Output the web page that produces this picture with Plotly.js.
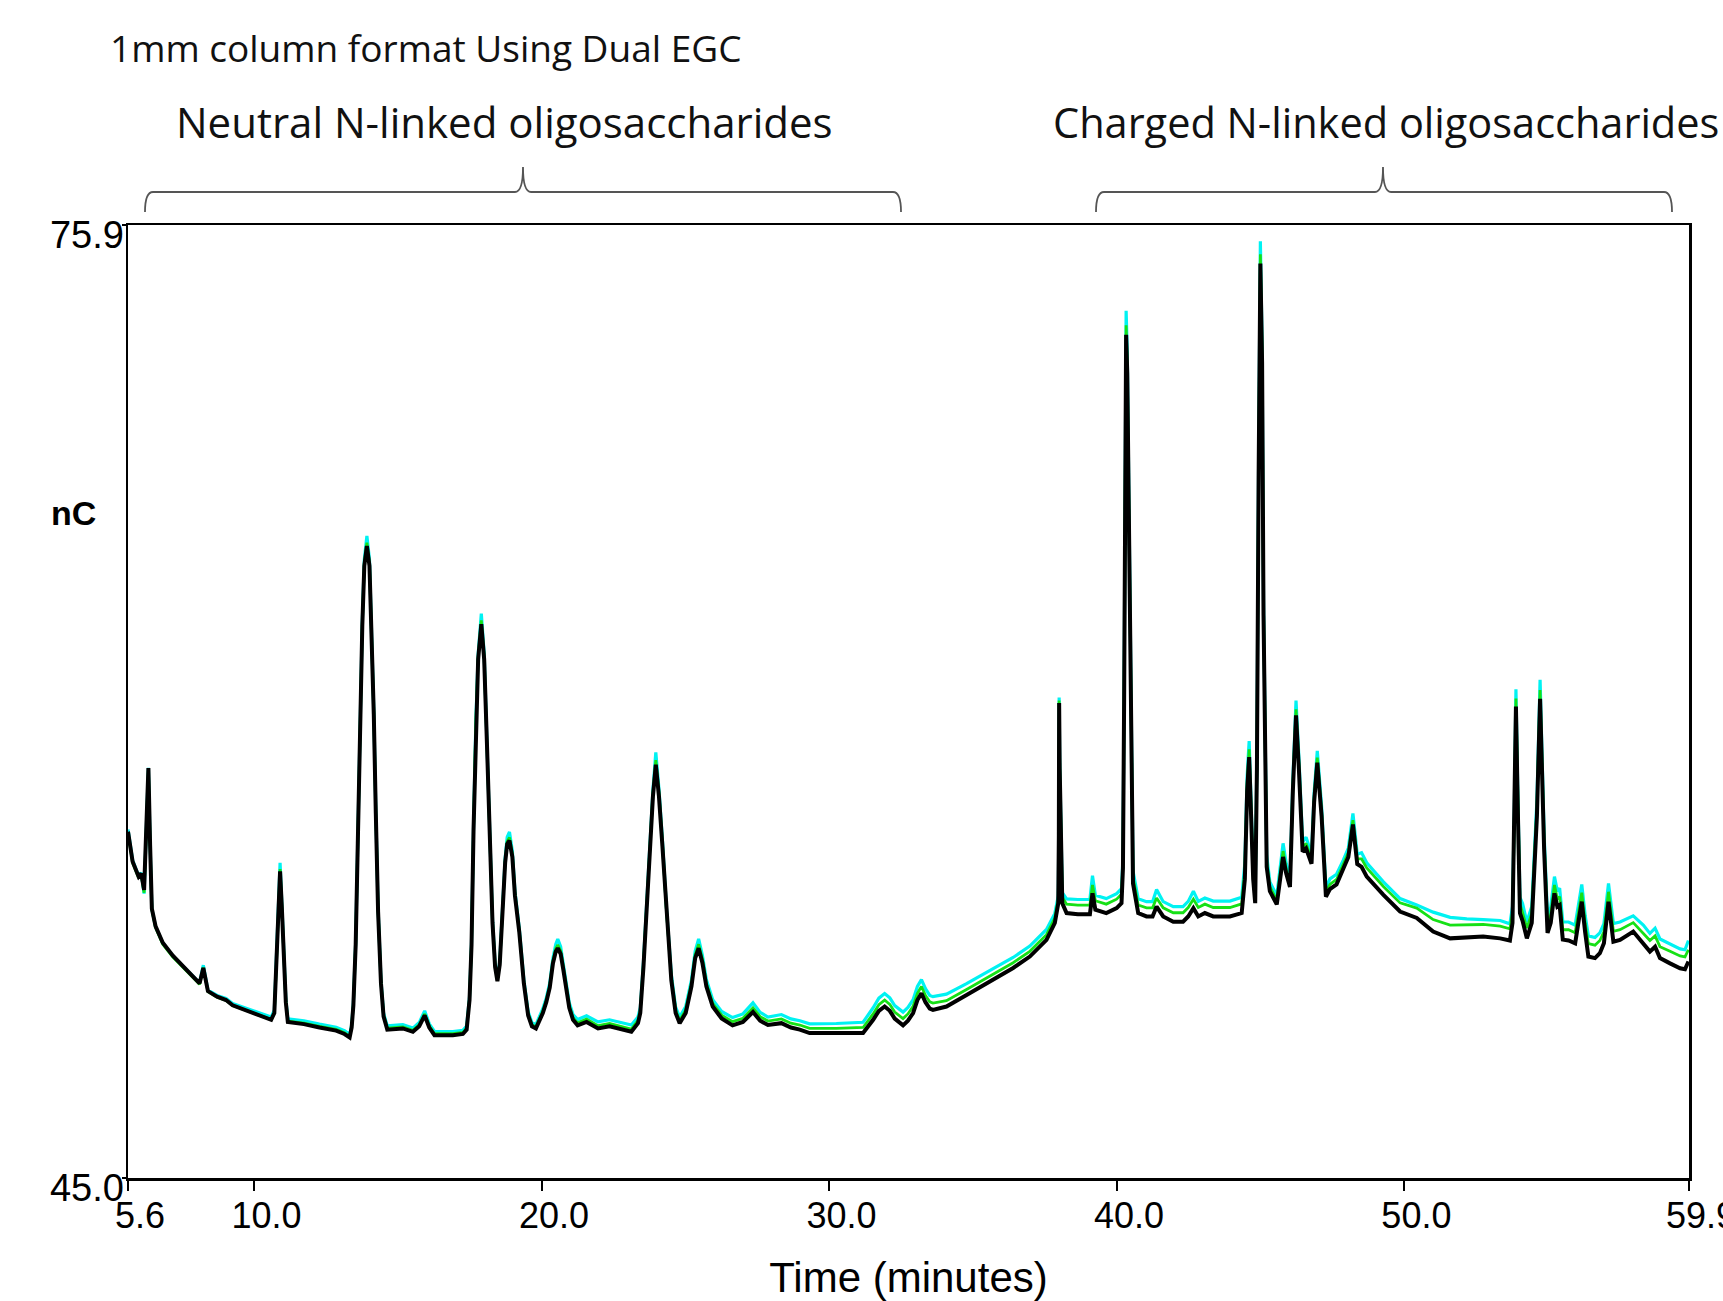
<!DOCTYPE html>
<html><head><meta charset="utf-8">
<script src="https://cdn.plot.ly/plotly-3.0.1.min.js"></script>
<style>html,body{margin:0;padding:0;background:#fff;overflow:hidden;} #chart{width:1723px;height:1301px;}</style>
</head><body><div id="chart"></div>
<script>
const retentionTime=[
5.60,5.76,5.97,6.06,6.16,6.23,6.31,6.37,6.43,6.56,
6.81,7.16,7.62,8.09,8.22,8.38,8.70,9.01,9.24,9.69,
10.17,10.58,10.69,10.76,10.82,10.89,10.95,11.01,11.09,11.16,
11.72,12.26,12.84,13.13,13.31,13.38,13.44,13.52,13.59,13.67,
13.75,13.82,13.91,14.00,14.07,14.15,14.22,14.30,14.40,14.49,
14.62,15.16,15.51,15.73,15.92,16.08,16.26,16.90,17.25,17.38,
17.48,17.55,17.62,17.70,17.78,17.89,17.99,18.09,18.18,18.28,
18.37,18.45,18.53,18.62,18.72,18.79,18.87,18.97,19.06,19.21,
19.37,19.52,19.65,19.79,20.03,20.15,20.27,20.38,20.48,20.55,
20.65,20.74,20.85,20.95,21.08,21.24,21.55,21.95,22.35,22.77,
23.11,23.34,23.42,23.53,23.63,23.78,23.86,23.96,24.07,24.19,
24.33,24.50,24.65,24.79,25.00,25.20,25.33,25.45,25.58,25.72,
25.94,26.25,26.63,26.99,27.34,27.59,27.86,28.33,28.66,28.97,
29.31,30.24,31.17,31.52,31.72,31.92,32.10,32.27,32.56,32.73,
32.91,33.06,33.20,33.34,33.49,33.60,34.07,34.77,35.58,36.39,
36.97,37.55,37.84,37.96,37.98,37.99,38.01,38.10,38.25,38.64,
39.06,39.15,39.25,39.63,39.99,40.16,40.21,40.25,40.29,40.32,
40.36,40.42,40.48,40.56,40.74,41.03,41.24,41.38,41.61,41.96,
42.30,42.48,42.66,42.83,43.06,43.35,43.93,44.34,44.45,44.53,
44.60,44.66,44.74,44.81,44.87,44.93,44.99,45.05,45.10,45.21,
45.32,45.56,45.68,45.78,45.89,46.02,46.12,46.23,46.33,46.46,
46.58,46.77,46.86,46.97,47.12,47.27,47.41,47.64,47.87,48.05,
48.21,48.36,48.51,48.69,49.27,49.85,50.43,51.00,51.59,52.17,
52.74,53.33,53.67,53.76,53.82,53.88,53.94,54.02,54.11,54.26,
54.43,54.61,54.72,54.86,54.98,55.09,55.22,55.32,55.40,55.51,
55.71,55.94,56.08,56.17,56.29,56.40,56.63,56.80,56.94,57.10,
57.27,57.50,57.96,58.31,58.54,58.72,58.89,59.24,59.59,59.76,
59.88];

const signalBlack=[
56.23,55.26,54.77,54.87,54.34,56.12,58.29,55.76,53.73,53.16,
52.63,52.21,51.77,51.31,51.81,51.06,50.88,50.77,50.60,50.45,
50.28,50.13,50.35,51.84,53.62,54.94,53.80,52.20,50.70,50.06,
49.99,49.88,49.78,49.67,49.56,49.88,50.60,52.56,55.76,59.68,
62.89,64.85,65.49,64.85,62.89,60.04,56.83,53.63,51.31,50.24,
49.81,49.85,49.74,49.92,50.27,49.88,49.63,49.63,49.67,49.81,
50.77,52.56,56.30,59.68,61.82,62.96,61.82,58.97,56.12,53.27,
51.84,51.38,51.91,53.63,55.23,55.83,55.94,55.41,54.16,52.98,
51.31,50.27,49.92,49.85,50.35,50.70,51.17,51.95,52.34,52.45,
52.27,51.77,51.17,50.52,50.13,49.95,50.06,49.85,49.92,49.81,
49.74,50.02,50.35,51.84,53.59,55.76,57.37,58.40,57.37,55.76,
53.59,51.41,50.35,50.02,50.35,51.21,52.13,52.45,51.98,51.21,
50.56,50.17,49.95,50.06,50.38,50.10,49.96,50.02,49.88,49.81,
49.70,49.69,49.70,50.13,50.42,50.56,50.42,50.17,49.95,50.10,
50.35,50.77,50.99,50.70,50.49,50.45,50.56,50.93,51.38,51.81,
52.18,52.72,53.27,53.91,56.12,60.40,58.26,53.91,53.59,53.55,
53.55,54.23,53.70,53.59,53.75,53.91,55.05,60.40,68.24,72.34,
71.09,66.10,60.40,54.55,53.59,53.48,53.48,53.80,53.48,53.31,
53.31,53.48,53.75,53.48,53.59,53.48,53.48,53.59,54.69,57.55,
58.65,56.83,54.69,53.91,58.26,67.88,74.65,71.45,63.25,55.09,
54.30,53.87,54.69,55.41,54.87,54.44,57.55,60.00,58.26,55.58,
55.69,55.19,57.19,58.47,56.73,54.12,54.37,54.52,55.02,55.41,
56.46,55.18,55.09,54.77,54.18,53.64,53.43,52.99,52.77,52.81,
52.83,52.77,52.70,53.27,56.12,60.29,57.19,53.59,53.34,52.77,
53.27,56.73,60.54,55.66,52.95,53.27,54.23,53.80,53.85,52.73,
52.70,52.61,53.45,53.96,52.95,52.18,52.13,52.29,52.61,53.96,
52.66,52.72,52.99,52.61,52.34,52.50,52.13,51.96,51.80,51.77,
52.02];

const signalGreen=[
56.20,55.22,54.73,54.84,54.25,56.10,58.29,55.76,53.70,53.12,
52.58,52.16,51.73,51.28,51.82,51.04,50.86,50.76,50.59,50.45,
50.28,50.14,50.36,51.86,53.65,55.02,53.83,52.23,50.73,50.09,
50.02,49.92,49.82,49.71,49.59,49.91,50.63,52.59,55.79,59.72,
62.94,64.92,65.60,64.92,62.94,60.08,56.87,53.67,51.35,50.28,
49.86,49.90,49.79,49.97,50.32,49.93,49.68,49.68,49.72,49.86,
50.81,52.60,56.34,59.73,61.88,63.08,61.89,59.02,56.16,53.31,
51.88,51.42,51.95,53.67,55.28,55.91,56.04,55.48,54.21,53.02,
51.35,50.32,49.97,49.90,50.41,50.76,51.23,52.02,52.44,52.56,
52.37,51.85,51.24,50.59,50.20,50.03,50.15,49.94,50.01,49.90,
49.83,50.11,50.43,51.92,53.67,55.85,57.47,58.55,57.48,55.86,
53.68,51.50,50.44,50.11,50.45,51.31,52.24,52.58,52.10,51.31,
50.66,50.28,50.07,50.18,50.52,50.23,50.09,50.16,50.02,49.96,
49.85,49.85,49.88,50.32,50.62,50.77,50.63,50.38,50.17,50.32,
50.57,50.99,51.21,50.92,50.71,50.67,50.75,51.11,51.55,51.98,
52.35,52.89,53.43,54.05,56.20,60.48,58.35,54.10,53.88,53.85,
53.85,54.50,53.99,53.88,54.04,54.20,55.20,60.55,68.45,72.65,
71.35,66.30,60.55,54.75,53.85,53.76,53.76,54.08,53.76,53.60,
53.60,53.77,54.04,53.77,53.88,53.77,53.77,53.89,54.95,57.80,
58.90,57.05,54.85,54.05,58.45,68.10,74.95,71.70,63.45,55.25,
54.45,54.00,54.83,55.60,55.00,54.55,57.70,60.20,58.42,55.72,
55.85,55.33,57.33,58.63,56.87,54.25,54.52,54.68,55.16,55.55,
56.60,55.35,55.35,55.05,54.45,53.92,53.75,53.38,53.20,53.20,
53.22,53.17,53.08,53.60,56.40,60.55,57.45,53.88,53.60,53.10,
53.58,57.00,60.82,55.92,53.22,53.55,54.50,54.05,54.12,53.05,
53.05,52.95,53.75,54.25,53.25,52.60,52.55,52.70,52.98,54.28,
53.00,53.05,53.28,52.95,52.70,52.85,52.50,52.35,52.20,52.17,
52.40];

const signalCyan=[
56.30,55.30,54.80,54.90,54.22,56.10,58.30,55.78,53.72,53.15,
52.62,52.20,51.77,51.33,51.90,51.09,50.92,50.82,50.66,50.52,
50.36,50.22,50.44,51.92,53.72,55.22,53.92,52.30,50.80,50.16,
50.10,49.99,49.89,49.78,49.66,49.96,50.68,52.64,55.85,59.78,
63.02,65.05,65.82,65.05,63.02,60.14,56.92,53.72,51.40,50.34,
49.93,49.97,49.86,50.04,50.42,50.00,49.75,49.75,49.79,49.93,
50.87,52.66,56.40,59.80,61.98,63.30,62.00,59.10,56.24,53.38,
51.95,51.48,52.02,53.75,55.38,56.05,56.22,55.60,54.30,53.10,
51.42,50.39,50.04,49.97,50.49,50.84,51.32,52.12,52.58,52.75,
52.50,51.95,51.33,50.68,50.30,50.14,50.26,50.06,50.13,50.03,
49.96,50.22,50.52,52.00,53.75,55.94,57.58,58.80,57.60,55.96,
53.77,51.60,50.54,50.22,50.56,51.42,52.36,52.75,52.22,51.43,
50.78,50.40,50.20,50.32,50.68,50.37,50.22,50.30,50.16,50.10,
50.00,50.01,50.05,50.52,50.83,50.98,50.84,50.59,50.38,50.53,
50.78,51.21,51.43,51.14,50.92,50.88,50.96,51.30,51.73,52.15,
52.52,53.06,53.58,54.15,56.30,60.58,58.45,54.25,54.05,54.03,
54.03,54.80,54.17,54.06,54.22,54.38,55.40,60.80,68.80,73.12,
71.80,66.60,60.80,54.95,54.05,53.96,53.96,54.35,53.96,53.80,
53.80,53.97,54.30,53.97,54.08,53.98,53.98,54.10,55.20,58.05,
59.17,57.25,55.00,54.15,58.65,68.40,75.37,72.00,63.70,55.45,
54.60,54.15,55.00,55.85,55.20,54.70,57.90,60.48,58.65,55.90,
56.05,55.50,57.50,58.85,57.05,54.40,54.70,54.85,55.30,55.70,
56.82,55.50,55.55,55.22,54.60,54.06,53.85,53.62,53.45,53.40,
53.38,53.35,53.24,53.80,56.65,60.85,57.70,54.10,53.90,53.30,
53.80,57.25,61.15,56.15,53.45,53.78,54.77,54.30,54.40,53.30,
53.30,53.20,54.00,54.52,53.50,52.85,52.80,52.95,53.25,54.55,
53.25,53.30,53.50,53.20,52.93,53.10,52.75,52.58,52.43,52.40,
52.70];

const xTickValues=[5.6,10,20,30,40,50,59.9];
const xTickLabels=["5.6","10.0","20.0","30.0","40.0","50.0","59.9"];
const yTickValues=[45.0,75.9];
const yTickLabels=["45.0","75.9"];
const xRange=[5.6,59.9];
const yRange=[45.0,75.9];
const chartTitle="1mm column format Using Dual EGC";
const groupLabels=["Neutral N-linked oligosaccharides","Charged N-linked oligosaccharides"];
const yLabel="nC";
const xLabel="Time (minutes)";

// layout geometry (pixels)
const W=1723,H=1301,PL=128,PR=1689,PT=225,PB=1178;
const px=x=>(x-PL)/(PR-PL);
const py=y=>(PB-y)/(PB-PT);

function bracePath(x0,xm,x1){
  const yb=192, ye=212, yt=167, r=8;
  const P=(x,y)=>px(x).toFixed(5)+','+py(y).toFixed(5);
  return 'M'+P(x0,ye)+' Q'+P(x0,yb)+' '+P(x0+r,yb)+
         ' L'+P(xm-r,yb)+' Q'+P(xm,yb)+' '+P(xm,yt)+
         ' Q'+P(xm,yb)+' '+P(xm+r,yb)+
         ' L'+P(x1-r,yb)+' Q'+P(x1,yb)+' '+P(x1,ye);
}

const tickFamily='"Liberation Sans", Arial, sans-serif';
const textFont='"Open Sans", "Noto Sans", sans-serif';

const traces=[
  {x:retentionTime,y:signalCyan,type:'scatter',mode:'lines',line:{color:'#00f2f2',width:3.2},hoverinfo:'skip',showlegend:false},
  {x:retentionTime,y:signalGreen,type:'scatter',mode:'lines',line:{color:'#16e016',width:2.8},hoverinfo:'skip',showlegend:false},
  {x:retentionTime,y:signalBlack,type:'scatter',mode:'lines',line:{color:'#000',width:4},hoverinfo:'skip',showlegend:false}
];

const layout={
  width:W,height:H,
  margin:{l:PL,r:W-PR,t:PT,b:H-PB,pad:0},
  paper_bgcolor:'#fff',plot_bgcolor:'#fff',
  showlegend:false,
  xaxis:{
    range:xRange,tickmode:'array',tickvals:xTickValues,ticktext:xTickLabels,
    showgrid:false,zeroline:false,showline:true,mirror:true,linecolor:'#000',linewidth:2.5,
    ticks:'outside',ticklen:10,tickwidth:2,tickcolor:'#000',
    tickfont:{family:tickFamily,size:36,color:'#000'},ticklabelstandoff:-6,ticklabelshift:12,
    ticklabeloverflow:'allow',
    title:{text:xLabel,font:{family:tickFamily,size:42,color:'#000'},standoff:40},
    automargin:false,fixedrange:true
  },
  yaxis:{
    range:yRange,tickmode:'array',tickvals:yTickValues,ticktext:yTickLabels,
    showgrid:false,zeroline:false,showline:true,mirror:true,linecolor:'#000',linewidth:2.5,
    ticks:'outside',ticklen:4,tickwidth:2,tickcolor:'#000',
    tickfont:{family:tickFamily,size:38,color:'#000'},ticklabelshift:10,ticklabelstandoff:-10,
    ticklabeloverflow:'allow',
    automargin:false,fixedrange:true
  },
  shapes:[
    {type:'path',xref:'paper',yref:'paper',path:bracePath(145,523,901),line:{color:'#555',width:1.8}},
    {type:'path',xref:'paper',yref:'paper',path:bracePath(1096,1383,1672),line:{color:'#555',width:1.8}}
  ],
  annotations:[
    {text:chartTitle,xref:'paper',yref:'paper',x:px(108),y:py(47),xanchor:'left',yanchor:'middle',showarrow:false,
     font:{family:textFont,size:37,color:'#111'}},
    {text:groupLabels[0],xref:'paper',yref:'paper',x:px(174),y:py(122),xanchor:'left',yanchor:'middle',showarrow:false,
     font:{family:textFont,size:42,color:'#111'}},
    {text:groupLabels[1],xref:'paper',yref:'paper',x:px(1051),y:py(122),xanchor:'left',yanchor:'middle',showarrow:false,
     font:{family:textFont,size:41.5,color:'#111'}},
    {text:'<b>'+yLabel+'</b>',xref:'paper',yref:'paper',x:px(73),y:py(513),xanchor:'center',yanchor:'middle',showarrow:false,
     font:{family:tickFamily,size:34,color:'#000'}}
  ]
};

Plotly.newPlot('chart',traces,layout,{staticPlot:true,displayModeBar:false});
</script>
</body></html>
